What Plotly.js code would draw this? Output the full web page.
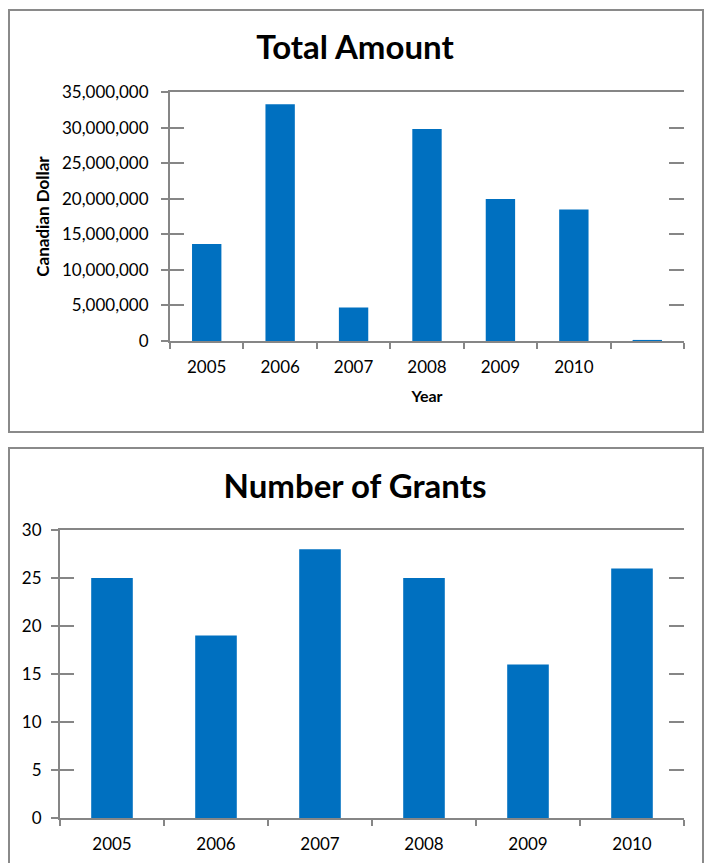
<!DOCTYPE html>
<html>
<head>
<meta charset="utf-8">
<script src="https://cdn.plot.ly/plotly-3.0.1.min.js"></script>
<style>
  html, body { margin: 0; padding: 0; background: #fff; width: 705px; height: 863px; overflow: hidden; }
  .box { position: absolute; box-sizing: border-box; border: 2px solid #8a8a8a; background: #fff; }
  .plot { position: absolute; }
</style>
</head>
<body>
<div class="box" style="left:8px; top:9px; width:696px; height:424px;"></div>
<div class="box" style="left:8px; top:447px; width:696px; height:440px;"></div>
<div id="amount" class="plot" style="left:10px; top:11px; width:690px; height:418px;"></div>
<div id="grants" class="plot" style="left:10px; top:449px; width:690px; height:425px;"></div>
<script>
// ---- data ----
const amountYears = ['2005', '2006', '2007', '2008', '2009', '2010', ' '];
const amountValues = [13650000, 33270000, 4700000, 29800000, 19950000, 18500000, 150000];
const grantYears = ['2005', '2006', '2007', '2008', '2009', '2010'];
const grantValues = [25, 19, 28, 25, 16, 26];

// ---- style ----
const BLUE = '#0070C0';
const GRAY = '#868686';
const FONT = 'Lato, "Open Sans", "DejaVu Sans", sans-serif';

function buildChart(div, cats, vals, opts) {
  const traces = [
    { type: 'bar', x: cats, y: vals, marker: { color: BLUE }, hoverinfo: 'x+y', showlegend: false },
    { type: 'scatter', mode: 'markers', x: cats, y: vals, yaxis: 'y2', marker: { opacity: 0 }, hoverinfo: 'skip', showlegend: false },
    { type: 'scatter', mode: 'markers', x: cats, y: vals, yaxis: 'y3', marker: { opacity: 0 }, hoverinfo: 'skip', showlegend: false }
  ];
  const yBase = { range: [0, opts.ymax], tickmode: 'linear', tick0: 0, dtick: opts.dtick, showgrid: false, zeroline: false, fixedrange: true };
  const layout = {
    width: 690, height: opts.height,
    margin: opts.margin,
    paper_bgcolor: 'rgba(0,0,0,0)', plot_bgcolor: 'rgba(0,0,0,0)',
    font: { family: FONT, color: '#000', size: 17 },
    bargap: 0.6,
    title: { text: opts.title, font: { family: FONT, size: 33, weight: 'bold', color: '#000' }, x: 0.5, xref: 'container', y: opts.titleY, yref: 'container', yanchor: 'middle' },
    xaxis: {
      type: 'category', tickson: 'boundaries', ticks: 'outside', ticklen: 6, tickwidth: 2, tickcolor: GRAY,
      showline: true, mirror: true, linecolor: GRAY, linewidth: 2, showgrid: false, zeroline: false,
      tickfont: { size: 17 }, ticklabelstandoff: 10, fixedrange: true,
      title: opts.xtitle ? { text: opts.xtitle, font: { size: 16, weight: 'bold' }, standoff: 14 } : { text: '' }
    },
    yaxis: Object.assign({}, yBase, {
      side: 'left', ticks: 'outside', ticklen: 7, tickwidth: 2, tickcolor: GRAY,
      showline: true, linecolor: GRAY, linewidth: 2, tickformat: ',', tickfont: { size: 17 },
      ticklabelstandoff: opts.ystandoff,
      title: opts.ytitle ? { text: opts.ytitle, font: { size: 17, weight: 'bold' }, standoff: 8 } : { text: '' }
    }),
    yaxis2: Object.assign({}, yBase, {
      overlaying: 'y', side: 'left', anchor: 'x', ticks: 'inside', ticklen: 14, tickwidth: 2, tickcolor: GRAY,
      showline: false, showticklabels: false
    }),
    yaxis3: Object.assign({}, yBase, {
      overlaying: 'y', side: 'right', anchor: 'x', ticks: 'inside', ticklen: 15, tickwidth: 2, tickcolor: GRAY,
      showline: false, showticklabels: false
    })
  };
  Plotly.newPlot(div, traces, layout, { displayModeBar: false, staticPlot: true });
}

buildChart('amount', amountYears, amountValues, {
  title: 'Total Amount', height: 418, ymax: 35000000, dtick: 5000000,
  margin: { l: 160, r: 16, t: 81, b: 88 }, titleY: 1 - 36 / 418,
  xtitle: 'Year', ytitle: 'Canadian Dollar', ystandoff: 9
});

buildChart('grants', grantYears, grantValues, {
  title: 'Number of Grants', height: 425, ymax: 30, dtick: 5,
  margin: { l: 50, r: 16, t: 81, b: 56 }, titleY: 1 - 37 / 425,
  xtitle: null, ytitle: null, ystandoff: 6
});
</script>
</body>
</html>
